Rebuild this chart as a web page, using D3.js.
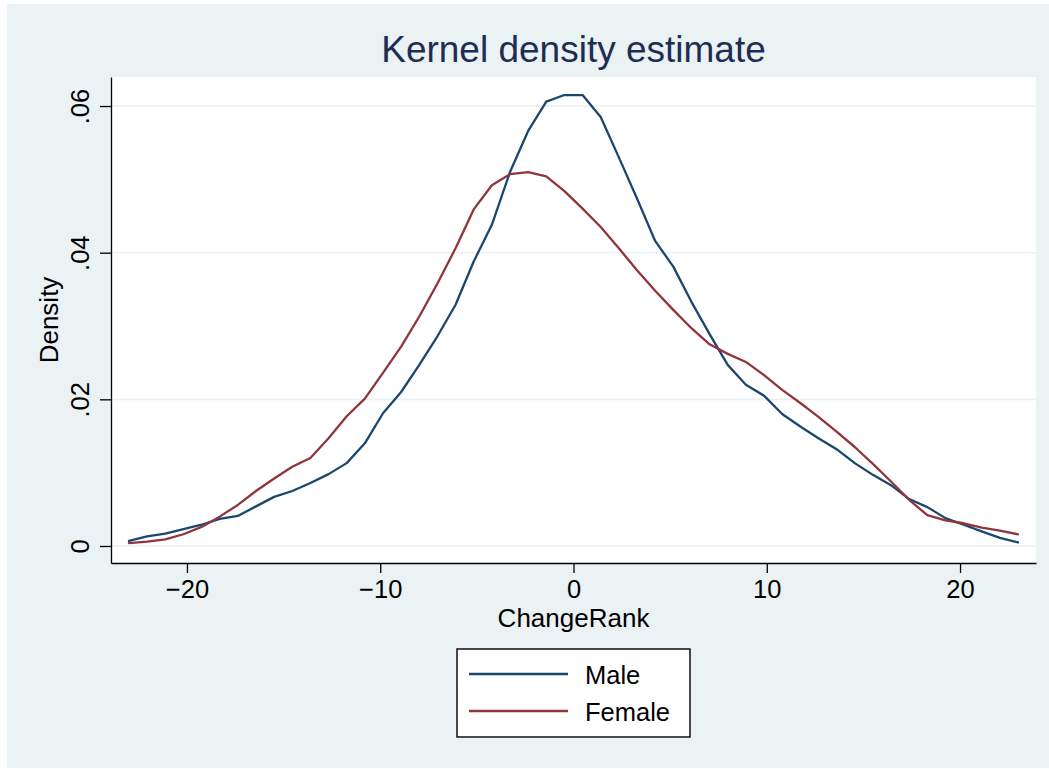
<!DOCTYPE html>
<html lang="en">
<head>
<meta charset="UTF-8">
<title>Kernel density estimate</title>
<script src="https://d3js.org/d3.v7.min.js"></script>
<style>
    body {
        margin: 0;
        background: white;
        font-family: "Liberation Sans", Arial, sans-serif;
    }
    .axis text {
        font-size: 25.5px;
        fill: black;
    }
    .axis path,
    .axis line {
        stroke: black;
        stroke-width: 1.3px;
    }
</style>
</head>
<body>
<script>
    // evaluation grid: 50 points from -23 to 23 (Stata kdensity default)
    var gridMin = -23, gridMax = 23;
    var male = [0.0007, 0.0013, 0.0017, 0.0023, 0.0029, 0.0037, 0.0041, 0.0054, 0.0067, 0.0075,
        0.0086, 0.0098, 0.0113, 0.0140, 0.0181, 0.0210, 0.0247, 0.0286, 0.0329, 0.0388,
        0.0438, 0.0510, 0.0566, 0.0606, 0.0615, 0.0615, 0.0585, 0.0530, 0.0474, 0.0416,
        0.0381, 0.0333, 0.0289, 0.0247, 0.0220, 0.0205, 0.0180, 0.0163, 0.0147, 0.0132,
        0.0113, 0.0097, 0.0083, 0.0064, 0.0053, 0.0038, 0.0029, 0.0020, 0.0011, 0.0005];
    var female = [0.0004, 0.0006, 0.0009, 0.0016, 0.0026, 0.0040, 0.0056, 0.0075, 0.0092, 0.0108,
        0.0120, 0.0147, 0.0177, 0.0201, 0.0236, 0.0272, 0.0313, 0.0358, 0.0406, 0.0459,
        0.0492, 0.0507, 0.0510, 0.0504, 0.0484, 0.0460, 0.0435, 0.0406, 0.0376, 0.0348,
        0.0322, 0.0297, 0.0275, 0.0262, 0.0251, 0.0233, 0.0213, 0.0195, 0.0176, 0.0156,
        0.0135, 0.0112, 0.0088, 0.0063, 0.0042, 0.0035, 0.0031, 0.0025, 0.0021, 0.0016];
    var seriesNames = ["Male", "Female"];
    var seriesColors = ["#1a476f", "#90353b"];
    var xTicks = [-20, -10, 0, 10, 20];
    var yTicks = [0, 0.02, 0.04, 0.06];

    var W = 1049, H = 769;
    var plot = { left: 111, right: 1036, top: 77, bottom: 563 };

    var svg = d3.select("body").append("svg")
        .attr("width", W)
        .attr("height", H);

    // graph region background
    svg.append("rect")
        .attr("x", 7).attr("y", 4)
        .attr("width", W - 7).attr("height", H - 5)
        .attr("fill", "#eaf2f3");

    // plot region
    svg.append("rect")
        .attr("x", plot.left).attr("y", plot.top)
        .attr("width", plot.right - plot.left).attr("height", plot.bottom - plot.top)
        .attr("fill", "white");

    var xScale = d3.scaleLinear().domain([-23.93, 23.93]).range([plot.left, plot.right]);
    var yScale = d3.scaleLinear().domain([-0.00232, 0.06396]).range([plot.bottom, plot.top]);

    // grid lines
    svg.append("g").selectAll("line")
        .data(yTicks)
        .enter().append("line")
        .attr("x1", plot.left).attr("x2", plot.right)
        .attr("y1", d => yScale(d)).attr("y2", d => yScale(d))
        .attr("stroke", "#eaf2f3")
        .attr("stroke-width", 1.6);

    // curves
    var xs = d3.range(male.length).map(i => gridMin + i * (gridMax - gridMin) / (male.length - 1));
    var line = d3.line()
        .x((d, i) => xScale(xs[i]))
        .y(d => yScale(d));

    [male, female].forEach(function (s, i) {
        svg.append("path")
            .datum(s)
            .attr("d", line)
            .attr("fill", "none")
            .attr("stroke", seriesColors[i])
            .attr("stroke-width", 2.3)
            .attr("stroke-linejoin", "round")
            .attr("stroke-linecap", "round");
    });

    // x axis
    svg.append("g")
        .attr("class", "axis")
        .attr("transform", "translate(0," + plot.bottom + ")")
        .call(d3.axisBottom(xScale).tickValues(xTicks).tickSize(10).tickSizeOuter(0).tickPadding(7))
        .call(g => g.selectAll("text").attr("font-family", "Liberation Sans, Arial, sans-serif"));

    // y axis
    var fmtY = d => d === 0 ? "0" : d3.format(".2f")(d).replace(/^0/, "");
    svg.append("g")
        .attr("class", "axis")
        .attr("transform", "translate(" + plot.left + ",0)")
        .call(d3.axisLeft(yScale).tickValues(yTicks).tickFormat(fmtY).tickSize(11).tickSizeOuter(0))
        .call(g => g.selectAll("text")
            .attr("x", 0).attr("dy", 0)
            .attr("text-anchor", "middle")
            .attr("font-family", "Liberation Sans, Arial, sans-serif")
            .attr("transform", "translate(-22,0) rotate(-90)"));

    // title
    svg.append("text")
        .attr("x", (plot.left + plot.right) / 2)
        .attr("y", 62)
        .attr("text-anchor", "middle")
        .attr("font-size", 37)
        .attr("fill", "#1e2d54")
        .text("Kernel density estimate");

    // axis titles
    svg.append("text")
        .attr("x", (plot.left + plot.right) / 2)
        .attr("y", 627)
        .attr("text-anchor", "middle")
        .attr("font-size", 26)
        .text("ChangeRank");

    svg.append("text")
        .attr("transform", "translate(58," + ((plot.top + plot.bottom) / 2) + ") rotate(-90)")
        .attr("text-anchor", "middle")
        .attr("font-size", 26)
        .text("Density");

    // legend
    var legend = svg.append("g").attr("transform", "translate(457,649)");
    legend.append("rect")
        .attr("width", 233).attr("height", 88)
        .attr("fill", "white")
        .attr("stroke", "black")
        .attr("stroke-width", 1.4);
    seriesNames.forEach(function (name, i) {
        var y = 25 + i * 37;
        legend.append("line")
            .attr("x1", 12).attr("x2", 111)
            .attr("y1", y).attr("y2", y)
            .attr("stroke", seriesColors[i])
            .attr("stroke-width", 2.3);
        legend.append("text")
            .attr("x", 128).attr("y", y + 10)
            .attr("font-size", 25.5)
            .text(name);
    });
</script>
</body>
</html>
